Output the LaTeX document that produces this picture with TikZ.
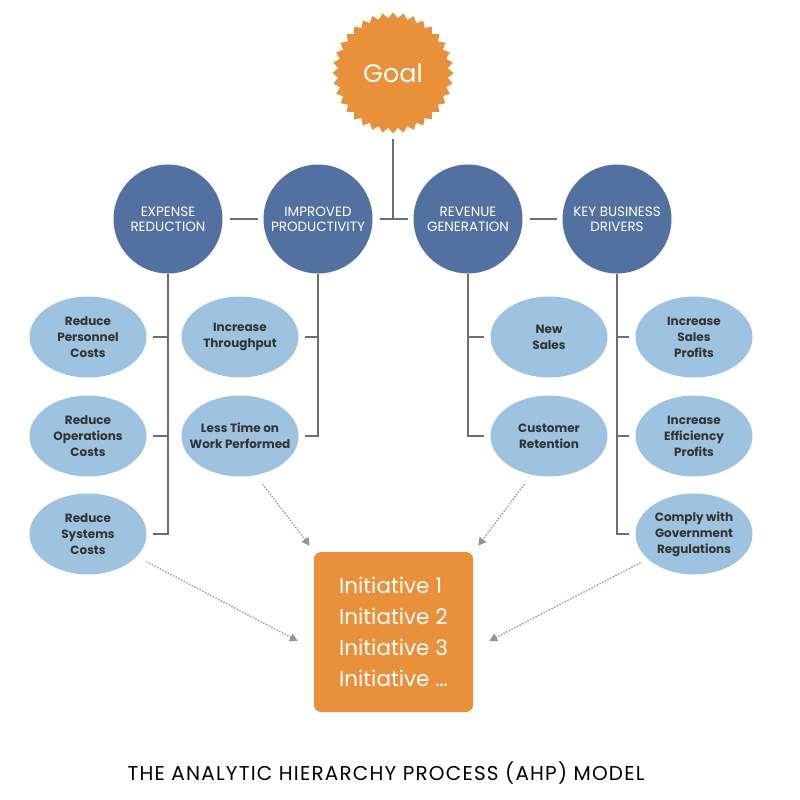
\documentclass[tikz,border=0pt]{standalone}
\usepackage{fontspec}
\setmainfont{Poppins}
\usetikzlibrary{shapes.geometric,arrows.meta}
\definecolor{goalor}{HTML}{E9913A}
\definecolor{critblue}{HTML}{5271A1}
\definecolor{subblue}{HTML}{9DC3E1}
\definecolor{lncol}{HTML}{6D6E71}
\definecolor{arcol}{HTML}{939598}
\definecolor{txtcol}{HTML}{333333}
\begin{document}
\begin{tikzpicture}[x=1pt,y=-1pt,
 crit/.style={circle, fill=critblue, minimum size=109pt, inner sep=0pt, text=white,
   font=\fontsize{13.5}{15}\selectfont, align=center},
 sub/.style={ellipse, fill=subblue, minimum width=117pt, minimum height=81pt,
   inner xsep=-14pt, inner ysep=0pt,
   text=txtcol, font=\bfseries\fontsize{12}{16}\selectfont, align=center},
 link/.style={draw=lncol, line width=2.2pt},
 dots/.style={draw=arcol, line width=1.9pt, line cap=round, dash pattern=on 0pt off 3pt,
   -{Triangle[width=8pt,length=8pt,fill=arcol]}}
]
\useasboundingbox (0,0) rectangle (800,800);
\node[star, star points=36, star point ratio=1.1, minimum size=121pt, inner sep=0pt,
  fill=goalor, text=white, font=\fontsize{25.5}{30}\selectfont] (goal) at (393,73) {Goal};

\node[crit] (er) at (168,219) {EXPENSE\\REDUCTION};
\node[crit] (ip) at (318,219) {IMPROVED\\PRODUCTIVITY};
\node[crit] (rg) at (468,219) {REVENUE\\GENERATION};
\node[crit] (kb) at (617,219) {KEY BUSINESS\\DRIVERS};

\node[sub] (rpc) at (88,337) {Reduce\\Personnel\\Costs};
\node[sub] (roc) at (88,436) {Reduce\\Operations\\Costs};
\node[sub] (rsc) at (88,534) {Reduce\\Systems\\Costs};
\node[sub] (it) at (240,337) {Increase\\Throughput};
\node[sub] (lt) at (240,436) {Less Time on\\Work Performed};
\node[sub] (ns) at (549,337) {New\\Sales};
\node[sub] (cr) at (549,436) {Customer\\Retention};
\node[sub] (isp) at (694,337) {Increase\\Sales\\Profits};
\node[sub] (iep) at (694,436) {Increase\\Efficiency\\Profits};
\node[sub] (cg) at (694,534) {Comply with\\Government\\Regulations};

\node[rectangle, rounded corners=7pt, fill=goalor, minimum width=159pt, minimum height=160pt,
  text=white, align=left, font=\fontsize{21.5}{31}\selectfont] (init) at (393.5,632)
  {Initiative 1\\Initiative 2\\Initiative 3\\Initiative \dots};

\node[font=\fontsize{20}{22}\selectfont\addfontfeature{LetterSpace=6}, text=black] (title) at (386,773)
  {THE ANALYTIC HIERARCHY PROCESS (AHP) MODEL};

% top connectors
\draw[link, shorten <=7pt, shorten >=5pt] (er) -- (ip);
\draw[link, shorten <=7pt, shorten >=5pt] (ip) -- (rg);
\draw[link, shorten <=7pt, shorten >=5pt] (rg) -- (kb);
\draw[link, shorten <=5pt] (goal.south) -- (goal.south |- ip.east);

% trunks
\draw[link] (er.south) |- ([xshift=6pt]rsc.east);
\draw[link] (er.south |- rpc.east) -- ([xshift=6pt]rpc.east);
\draw[link] (er.south |- roc.east) -- ([xshift=6pt]roc.east);
\draw[link] (ip.south) |- ([xshift=6pt]lt.east);
\draw[link] (ip.south |- it.east) -- ([xshift=6pt]it.east);
\draw[link] (rg.south) |- ([xshift=-6pt]cr.west);
\draw[link] (rg.south |- ns.west) -- ([xshift=-6pt]ns.west);
\draw[link] (kb.south) |- ([xshift=-6pt]cg.west);
\draw[link] (kb.south |- isp.west) -- ([xshift=-6pt]isp.west);
\draw[link] (kb.south |- iep.west) -- ([xshift=-6pt]iep.west);

% dotted arrows
\draw[dots] ([shift={(23,8)}]lt.south) -- ([shift={(-4,-6)}]init.north west);
\draw[dots] ([shift={(-25,8)}]cr.south) -- ([shift={(5,-6)}]init.north east);
\draw[dots] ([shift={(59,28)}]rsc.center) -- ([shift={(-16,9)}]init.west);
\draw[dots] ([shift={(-54,29)}]cg.center) -- ([shift={(16,9)}]init.east);
\end{tikzpicture}
\end{document}
